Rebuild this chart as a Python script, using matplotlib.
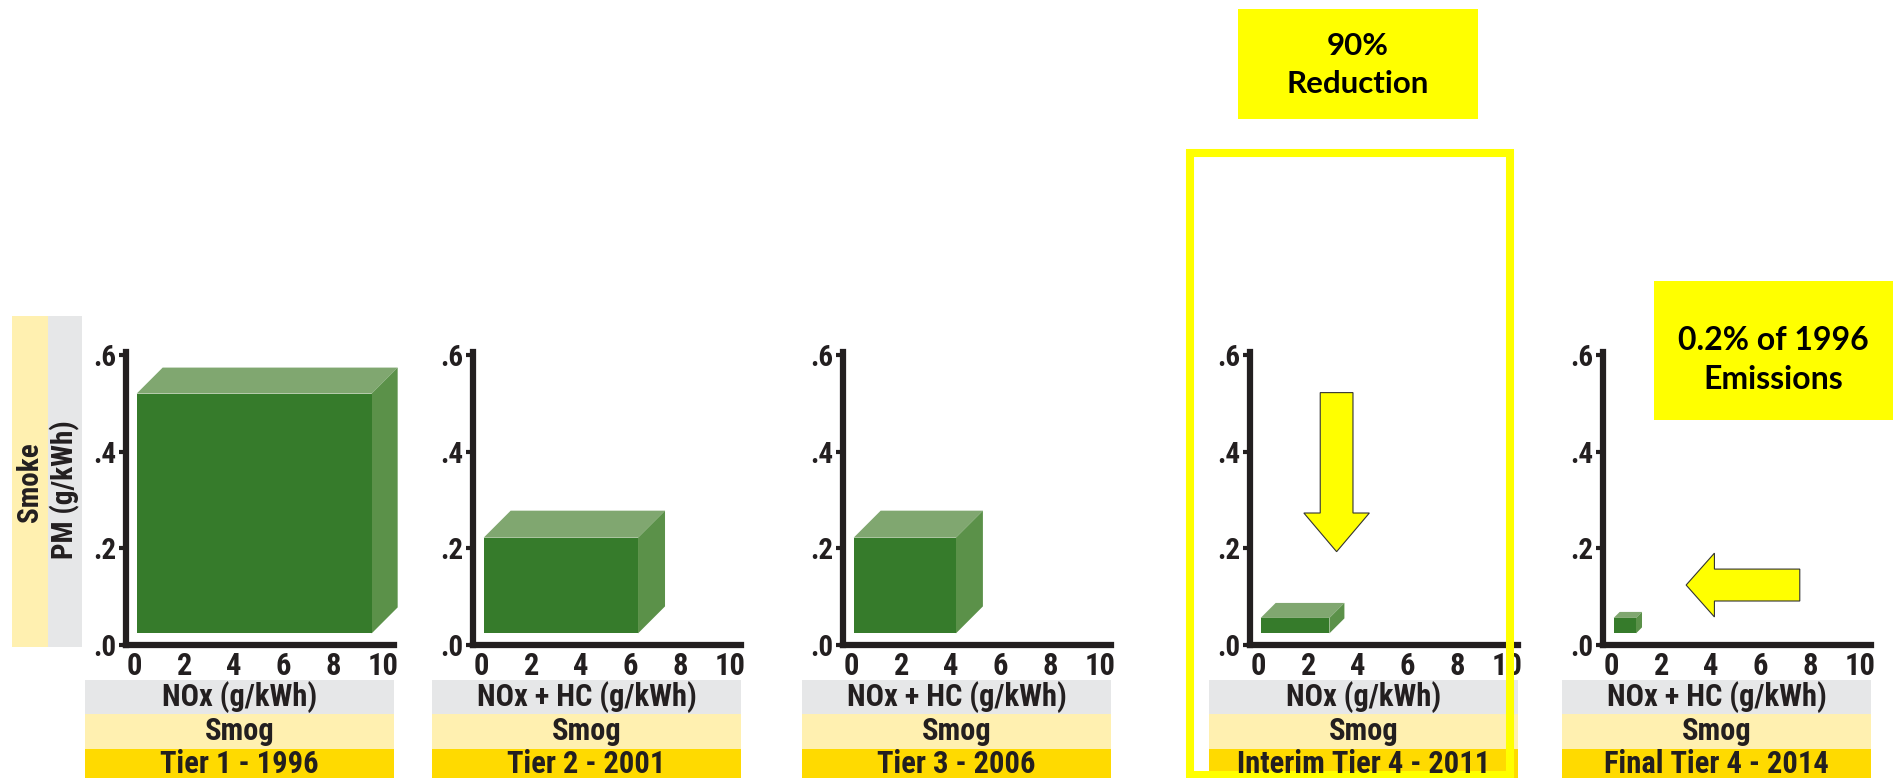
import numpy as np
import matplotlib
matplotlib.use('Agg')
import matplotlib.pyplot as plt
from matplotlib.patches import Rectangle, Polygon
from matplotlib import font_manager

# ---- data ----
tiers = ['Tier 1 - 1996', 'Tier 2 - 2001', 'Tier 3 - 2006',
         'Interim Tier 4 - 2011', 'Final Tier 4 - 2014']
x_labels = ['NOx (g/kWh)', 'NOx + HC (g/kWh)', 'NOx + HC (g/kWh)',
            'NOx (g/kWh)', 'NOx + HC (g/kWh)']
nox = [9.55, 6.3, 4.2, 2.85, 0.98]        # front face right edge
pm = [0.52, 0.222, 0.222, 0.056, 0.056]   # front face top edge
x_ticks = [0, 2, 4, 6, 8, 10]
y_ticks = [0.0, 0.2, 0.4, 0.6]
y_ticklabels = ['.0', '.2', '.4', '.6']

# pick a narrow face if one is installed
fl = font_manager.fontManager.ttflist
names = {f.name for f in fl}
narrow = [n for n in ['Liberation Sans Narrow', 'Roboto Condensed', 'DejaVu Sans Condensed']
          if n in names]
FONT = narrow[:1] + ['DejaVu Sans']
STRETCH = 'condensed'

# a real bold face for the callouts (Calibri-like)
bold_ok = [n for n in ['Lato', 'Open Sans', 'Noto Sans', 'Roboto', 'Liberation Sans']
           if any(f.name == n and (f.weight in ('bold', 700) or str(f.weight) == '700') for f in fl)]
NOTE_FONT = bold_ok[:1] + ['DejaVu Sans']

# ---- style ----
W, H = 1893, 778
FRONT = '#367B2B'
TOP = '#80A770'
SIDE = '#5B9149'
GRAY = '#E6E7E8'
SMOG = '#FFF0B0'
GOLD = '#FFDA00'
YEL = '#FFFF00'
INK = '#231F20'

panel_left = [126, 473, 843, 1250, 1603]   # px, y-axis position
panel_w = 268
ax_bottom, ax_top = 645, 352
depth_px = [26, 27, 27, 15, 6]
xlim = (-0.35, 10.45)
ylim = (0, 0.606)
bar_x0, bar_y0 = 0.08, 0.024

fig = plt.figure(figsize=(W / 100, H / 100), dpi=100)

px_x = panel_w / (xlim[1] - xlim[0])
px_y = (ax_bottom - ax_top) / (ylim[1] - ylim[0])


def lab_style(t, size, weight='bold'):
    t.set_family(FONT)
    t.set_fontweight(weight)
    t.set_fontstretch(STRETCH)
    t.set_fontsize(size)
    t.set_color(INK)


axes = []
for i in range(5):
    ax = fig.add_axes([panel_left[i] / W, (H - ax_bottom) / H,
                       panel_w / W, (ax_bottom - ax_top) / H])
    ax.set_xlim(*xlim)
    ax.set_ylim(*ylim)
    for s in ['top', 'right']:
        ax.spines[s].set_visible(False)
    for s in ['left', 'bottom']:
        ax.spines[s].set_linewidth(4.5)
        ax.spines[s].set_color(INK)
        ax.spines[s].set_capstyle('projecting')
    ax.set_xticks(x_ticks)
    ax.set_xticklabels([str(t) for t in x_ticks])
    ax.set_yticks(y_ticks)
    ax.set_yticklabels(y_ticklabels)
    ax.tick_params(axis='x', length=0, pad=4)
    ax.tick_params(axis='y', length=5, width=3, color=INK, pad=2)
    for lab in ax.get_xticklabels():
        lab_style(lab, 22)
    for lab in ax.get_yticklabels():
        lab_style(lab, 21)

    # 3D box
    dx = depth_px[i] / px_x
    dy = depth_px[i] / px_y
    x0, x1 = bar_x0, nox[i]
    y0, y1 = bar_y0, pm[i]
    ax.add_patch(Polygon([(x0, y1), (x0 + dx, y1 + dy), (x1 + dx, y1 + dy), (x1, y1)],
                         closed=True, facecolor=TOP, edgecolor='none', clip_on=False))
    ax.add_patch(Polygon([(x1, y0), (x1 + dx, y0 + dy), (x1 + dx, y1 + dy), (x1, y1)],
                         closed=True, facecolor=SIDE, edgecolor='none', clip_on=False))
    ax.add_patch(Rectangle((x0, y0), x1 - x0, y1 - y0, facecolor=FRONT,
                           edgecolor='none', clip_on=False))
    axes.append(ax)

# arrows
axes[3].arrow(3.14, 0.522, 0, -0.329, width=1.32, head_width=2.64, head_length=0.08,
              length_includes_head=True, facecolor=YEL, edgecolor='#333333',
              linewidth=0.8, zorder=4)
axes[4].arrow(7.58, 0.124, -4.58, 0, width=0.066, head_width=0.132, head_length=1.14,
              length_includes_head=True, facecolor=YEL, edgecolor='#333333',
              linewidth=0.8, zorder=4)

# overlay in pixel coordinates
ov = fig.add_axes([0, 0, 1, 1], zorder=5)
ov.set_xlim(0, W)
ov.set_ylim(H, 0)
ov.axis('off')


def band_text(x, y, s, size=20, rot=0):
    t = ov.text(x, y, s, rotation=rot, ha='center', va='center')
    lab_style(t, size)


# left label bands
ov.add_patch(Rectangle((12, 316), 36, 331, facecolor=SMOG, edgecolor='none'))
ov.add_patch(Rectangle((48, 316), 34, 331, facecolor=GRAY, edgecolor='none'))
band_text(30, 482, 'Smoke', 21, 90)
band_text(65, 490, 'PM (g/kWh)', 21, 90)

# bottom bands per panel
for i in range(5):
    bl = panel_left[i] - 41
    br = panel_left[i] + panel_w
    ov.add_patch(Rectangle((bl, 680), br - bl, 34, facecolor=GRAY, edgecolor='none'))
    ov.add_patch(Rectangle((bl, 714), br - bl, 35, facecolor=SMOG, edgecolor='none'))
    ov.add_patch(Rectangle((bl, 749), br - bl, 30, facecolor=GOLD, edgecolor='none'))
    cx = (bl + br) / 2
    band_text(cx, 697, x_labels[i], 22)
    band_text(cx, 731, 'Smog', 22)
    band_text(cx, 764, tiers[i], 22)

# highlight frame and callouts
ov.add_patch(Rectangle((1190, 153), 320, 622, facecolor='none', edgecolor=YEL,
                       linewidth=5.8, joinstyle='miter'))
ov.add_patch(Rectangle((1238, 9), 240, 110, facecolor=YEL, edgecolor='none'))
ov.text(1358, 65, '90%\nReduction', ha='center', va='center', fontsize=22.5,
        family=NOTE_FONT, fontweight='bold', color='black', linespacing=1.4)
ov.add_patch(Rectangle((1654, 281), 239, 139, facecolor=YEL, edgecolor='none'))
ov.text(1773, 360, '0.2% of 1996\nEmissions', ha='center', va='center', fontsize=23,
        family=NOTE_FONT, fontweight='bold', color='black', linespacing=1.4)

fig.savefig('out.png', dpi=100)
